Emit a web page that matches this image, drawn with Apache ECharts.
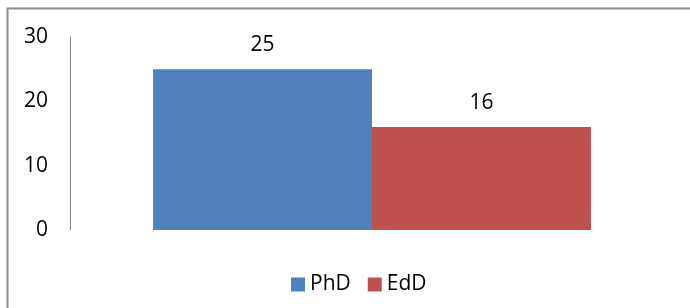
<!DOCTYPE html>
<html>
<head>
<meta charset="utf-8">
<script src="https://cdn.jsdelivr.net/npm/echarts@6/dist/echarts.min.js"></script>
<style>
  html, body { margin: 0; padding: 0; background: #fff; }
  #chart { width: 690px; height: 308px; }
</style>
</head>
<body>
<div id="chart"></div>
<script>
const categories = ['']
const seriesNames = ['PhD', 'EdD']
const phdValues = [25]
const eddValues = [16]
const yTicks = [0, 10, 20, 30]

const fontFamily = '"Open Sans", sans-serif'

const chart = echarts.init(document.getElementById('chart'), null, { renderer: 'canvas' })
chart.setOption({
  animation: false,
  color: ['#4F81BD', '#C0504D'],
  graphic: [{
    type: 'rect',
    shape: { x: 7.5, y: 8.5, width: 720, height: 340 },
    style: { fill: 'none', stroke: '#8c8c8c', lineWidth: 2 },
    silent: true
  }],
  grid: {
    top: 37,
    left: 70,
    right: 16,
    bottom: 78,
    containLabel: false
  },
  legend: {
    data: seriesNames,
    top: 269,
    left: 286,
    itemWidth: 14,
    itemHeight: 14,
    itemGap: 17,
    icon: 'rect',
    textStyle: { color: '#000', fontSize: 21, fontFamily }
  },
  xAxis: {
    type: 'category',
    data: categories,
    axisLine: { show: false },
    axisTick: { show: false },
    axisLabel: { show: false }
  },
  yAxis: {
    type: 'value',
    min: yTicks[0],
    max: yTicks[yTicks.length - 1],
    interval: 10,
    axisLine: { show: true, lineStyle: { color: '#868686', width: 1 } },
    axisTick: { show: false },
    splitLine: { show: false },
    axisLabel: {
      margin: 22,
      color: '#000',
      fontSize: 21,
      fontFamily
    }
  },
  series: [
    {
      name: seriesNames[0],
      type: 'bar',
      data: phdValues,
      barGap: '0%',
      barCategoryGap: '27.5%',
      label: { show: true, position: 'top', distance: 14, color: '#000', fontSize: 21, fontFamily }
    },
    {
      name: seriesNames[1],
      type: 'bar',
      data: eddValues,
      barGap: '0%',
      barCategoryGap: '27.5%',
      label: { show: true, position: 'top', distance: 14, color: '#000', fontSize: 21, fontFamily }
    }
  ]
})
</script>
</body>
</html>
